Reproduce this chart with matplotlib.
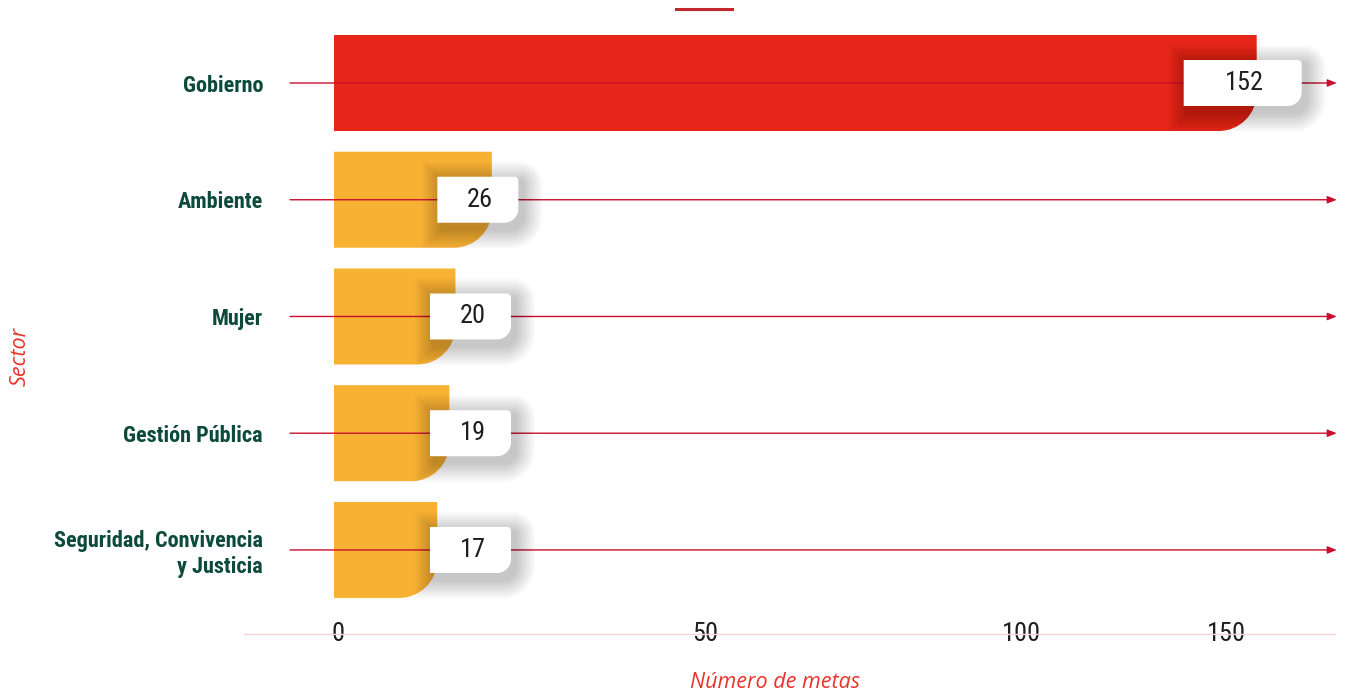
import matplotlib
matplotlib.use("Agg")
import matplotlib.pyplot as plt
from matplotlib import font_manager
from matplotlib.path import Path
from matplotlib.patches import PathPatch
from matplotlib.lines import Line2D

sectors = ["Gobierno", "Ambiente", "Mujer", "Gestión Pública",
           "Seguridad, Convivencia\ny Justicia"]
metas = [152, 26, 20, 19, 17]
bar_colors = ["#e52619", "#f7b133", "#f7b133", "#f7b133", "#f7b133"]
tick_labels = ["0", "50", "100", "150"]
# where the tick labels sit in the original picture
tick_spots = [0.7, 61.1, 113.3, 147.0]

installed = {f.name for f in font_manager.fontManager.ttflist}


def pick(*names):
    for n in names:
        if n in installed:
            return n
    return "DejaVu Sans"


label_font = pick("Roboto Condensed", "Liberation Sans Narrow", "Open Sans")
num_font = pick("Roboto Condensed", "Lato", "Open Sans")
title_font = pick("Open Sans", "Lato")

W, H = 1349, 694
fig = plt.figure(figsize=(W / 100, H / 100), dpi=100)
ax = fig.add_axes([244 / W, 60 / H, 1091 / W, 634 / H])
ax.set_xlim(-14.83, 164.9)
ax.set_ylim(4.72, -0.711)

K = 0.5523


def corner_patch(x0, x1, ya, yb, r_br, r_tr=0.0, **kw):
    p = ax.transData.transform([(x0, ya), (x1, yb)])
    L, R = sorted(p[:, 0])
    B, T = sorted(p[:, 1])
    rb = min(r_br, R - L, (T - B) / 2)
    rt = min(r_tr, R - L, (T - B) / 2)
    verts = [(L, T), (R - rt, T)]
    codes = [Path.MOVETO, Path.LINETO]
    if rt > 0:
        verts += [(R - rt + K * rt, T), (R, T - rt + K * rt), (R, T - rt)]
        codes += [Path.CURVE4] * 3
    verts += [(R, B + rb)]
    codes += [Path.LINETO]
    if rb > 0:
        verts += [(R, B + rb - K * rb), (R - rb + K * rb, B), (R - rb, B)]
        codes += [Path.CURVE4] * 3
    verts += [(L, B), (L, T)]
    codes += [Path.LINETO, Path.CLOSEPOLY]
    data = ax.transData.inverted().transform(verts)
    ax.add_patch(PathPatch(Path(data, codes), **kw))


o = ax.transData.transform((0, 0))
pxx = ax.transData.transform((1, 0))[0] - o[0]
pyy = abs(ax.transData.transform((0, 1))[1] - o[1])

half_bar = 48 / pyy
half_box = 23 / pyy
min_left = (430 - 334) / pxx

for i, v in enumerate(metas):
    # bar with rounded lower right corner
    corner_patch(0, v, i - half_bar, i + half_bar, 38, 0,
                 facecolor=bar_colors[i], edgecolor="none", zorder=1)

    # arrow line across the row
    ax.annotate("", xy=(165.2, i), xytext=(-7.25, i),
                arrowprops=dict(arrowstyle="-|>,head_length=0.55,head_width=0.22",
                                color="#c8102e", lw=1.0, shrinkA=0, shrinkB=0),
                annotation_clip=False, zorder=2)

    # value box with soft shadow
    w = (7 + 37 * len(str(v))) / pxx
    left = max(v - 14 / pxx - w / 2, min_left)
    right = left + w
    for j in range(14):
        g = j * 1.4
        corner_patch(left + (3 - g) / pxx, right + (6 + g) / pxx,
                     i - half_box + (3 - g) / pyy, i + half_box + (8 + g) / pyy,
                     14 + g, 4 + g,
                     facecolor="black", edgecolor="none", alpha=0.015, zorder=3)
    corner_patch(left, right, i - half_box, i + half_box, 14, 4,
                 facecolor="white", edgecolor="none", zorder=4)
    ax.text((left + right) / 2 + 2 / pxx, i, str(v), ha="center", va="center",
            fontsize=19, color="#1e1e1e", family=num_font, zorder=5)

for s in ["top", "right", "left"]:
    ax.spines[s].set_visible(False)
ax.spines["bottom"].set_color("#f6d3d7")
ax.spines["bottom"].set_linewidth(1.0)

ax.set_xticks(tick_spots, tick_labels)
ax.tick_params(axis="x", length=0, pad=0, labelsize=19, labelcolor="#1e1e1e")
for lab in ax.get_xticklabels():
    lab.set_va("center")
    lab.set_family(num_font)

ax.set_yticks(range(len(sectors)), sectors)
ax.tick_params(axis="y", length=0, pad=-13.7, labelsize=16, labelcolor="#0c4a3b")
for lab in ax.get_yticklabels():
    lab.set_family(label_font)
    lab.set_fontweight("bold")

fig.text(775 / W, 1 - 682 / H, "Número de metas", ha="center", va="center",
         fontsize=15.5, style="italic", color="#e8332a", family=title_font)
fig.text(20 / W, 1 - 356 / H, "Sector", ha="center", va="center", rotation=90,
         fontsize=15.5, style="italic", color="#e8332a", family=title_font)

fig.add_artist(Line2D([676 / W, 732 / W], [1 - 8.5 / H] * 2, color="#c1272d",
                      lw=2.2, transform=fig.transFigure))

plt.savefig("out.png", dpi=100)
